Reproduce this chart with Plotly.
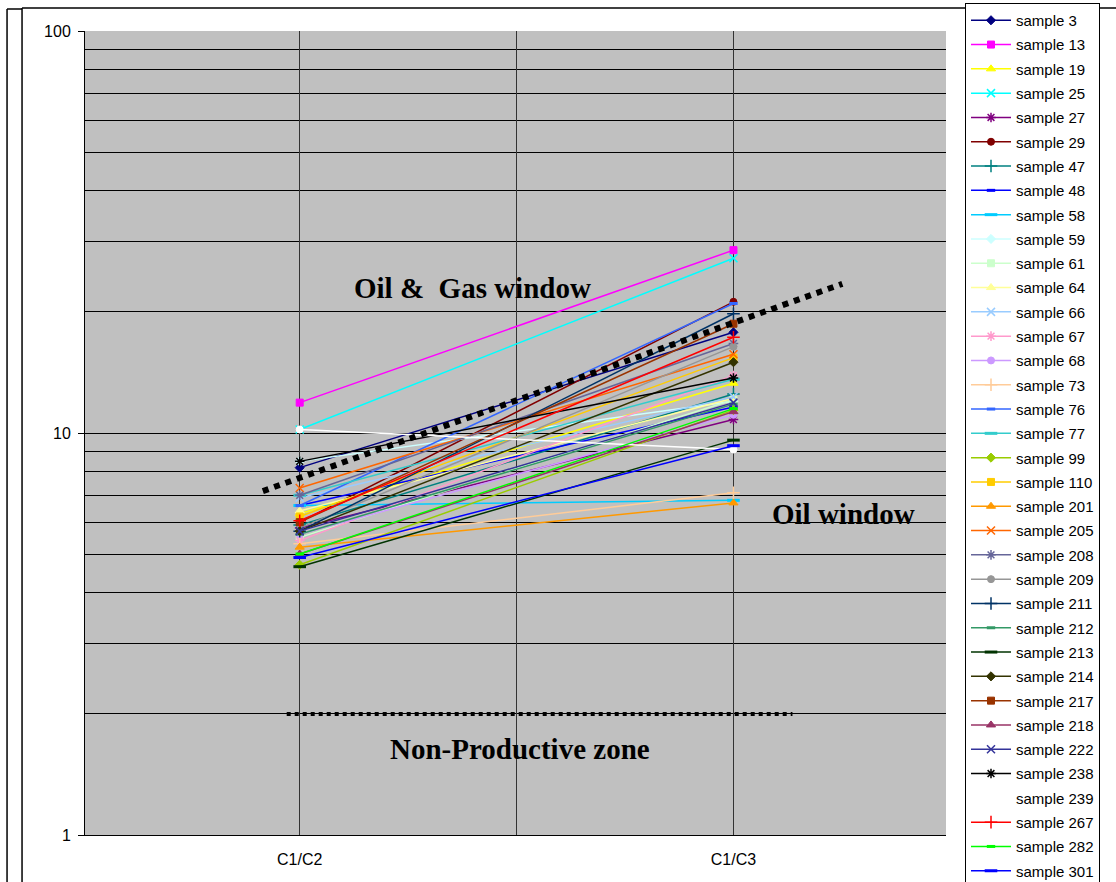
import plotly.graph_objects as go

# Gas ratio data per sample: C1/C2 and C1/C3
ratios = ["C1/C2", "C1/C3"]
samples = ["sample 3", "sample 13", "sample 19", "sample 25", "sample 27", "sample 29",
           "sample 47", "sample 48", "sample 58", "sample 59", "sample 61", "sample 64",
           "sample 66", "sample 67", "sample 68", "sample 73", "sample 76", "sample 77",
           "sample 99", "sample 110", "sample 201", "sample 205", "sample 208", "sample 209",
           "sample 211", "sample 212", "sample 213", "sample 214", "sample 217", "sample 218",
           "sample 222", "sample 238", "sample 239", "sample 267", "sample 282", "sample 301"]
c1_c2 = [8.2, 11.9, 6.3, 10.2, 5.8, 6.0,
         5.9, 6.6, 6.6, 8.5, 5.5, 6.4,
         6.9, 5.4, 5.6, 5.3, 6.6, 7.0,
         4.7, 6.2, 5.2, 7.3, 7.0, 5.8,
         5.7, 5.6, 4.65, 5.7, 6.0, 5.0,
         5.7, 8.5, 10.2, 6.05, 5.0, 4.9]
c1_c3 = [17.8, 28.5, 13.3, 27.2, 10.8, 21.2,
         12.5, 11.6, 6.8, 12.0, 12.1, 12.2,
         12.3, 13.9, 11.1, 7.1, 21.0, 13.6,
         11.4, 15.4, 6.7, 15.7, 16.7, 16.4,
         19.8, 11.8, 9.6, 15.0, 18.7, 11.3,
         11.9, 13.7, 9.1, 17.3, 11.5, 9.3]

# Zone boundaries
gas_line_x = [-0.085, 1.251]
gas_line_y = [7.17, 23.5]
np_line_x = [-0.03, 1.136]
np_line_y = [2.0, 2.0]

colors = ["#000080", "#FF00FF", "#FFFF00", "#00FFFF", "#800080", "#800000",
          "#008080", "#0000FF", "#00CCFF", "#CCFFFF", "#CCFFCC", "#FFFF99",
          "#99CCFF", "#FF99CC", "#CC99FF", "#FFCC99", "#3366FF", "#33CCCC",
          "#99CC00", "#FFCC00", "#FF9900", "#FF6600", "#666699", "#969696",
          "#003366", "#339966", "#003300", "#333300", "#993300", "#993366",
          "#333399", "#000000", "#FFFFFF", "#FF0000", "#00FF00", "#0000FF"]

# marker cycle: diamond, square, triangle, x, star, circle, plus, dash, bar
symbol_cycle = [("diamond", 7, 1), ("square", 7, 1), ("triangle-up", 8, 1),
                ("x-thin", 8, 1.5), ("asterisk", 8, 1.5), ("circle", 7, 1),
                ("cross-thin", 9, 1.5), ("line-ew", 6, 3), ("line-ew", 9, 3)]

W, H = 1116, 882
L, R, T, B = 85, 169.5, 31, 47
pw, ph = W - L - R, H - T - B


def px_x(px):
    return (px - L) / pw


def px_y(py):
    return (H - B - py) / ph


xs = list(range(len(ratios)))
fig = go.Figure()

for i, name in enumerate(samples):
    sym, size, lw = symbol_cycle[i % len(symbol_cycle)]
    fig.add_trace(go.Scatter(
        x=xs, y=[c1_c2[i], c1_c3[i]], name=name, mode="lines+markers",
        legendgroup=name,
        line=dict(color=colors[i], width=1.5),
        marker=dict(symbol=sym, size=size, color=colors[i],
                    line=dict(color=colors[i], width=lw)),
    ))

fig.add_trace(go.Scatter(x=gas_line_x, y=gas_line_y, mode="lines", showlegend=False,
                         hoverinfo="skip", line=dict(color="black", width=6, dash="dot")))
fig.add_trace(go.Scatter(x=np_line_x, y=np_line_y, mode="lines", showlegend=False,
                         hoverinfo="skip", line=dict(color="black", width=4, dash="dot")))

zone_font = dict(family="Times New Roman, Liberation Serif, serif", size=29, color="black")
annotations = [
    dict(text="<b>Oil &amp;  Gas window</b>", x=px_x(473), y=px_y(288)),
    dict(text="<b>Oil window</b>", x=px_x(844), y=px_y(514)),
    dict(text="<b>Non-Productive zone</b>", x=px_x(520), y=px_y(749)),
]
for a in annotations:
    fig.add_annotation(xref="paper", yref="paper", showarrow=False,
                       xanchor="center", yanchor="middle", font=zone_font, **a)

# outer frame lines
frame = dict(type="line", xref="paper", yref="paper", line=dict(color="black", width=1.5))
fig.add_shape(x0=px_x(22), x1=px_x(22), y0=px_y(8), y1=px_y(900), **frame)
fig.add_shape(x0=px_x(22), x1=px_x(1120), y0=px_y(8), y1=px_y(8), **frame)
fig.add_shape(x0=px_x(7), x1=px_x(7), y0=px_y(9), y1=px_y(900), **frame)
fig.add_shape(x0=px_x(7), x1=px_x(22), y0=px_y(9), y1=px_y(9), **frame)

fig.update_layout(
    width=W, height=H,
    margin=dict(l=L, r=R, t=T, b=B, autoexpand=False),
    paper_bgcolor="white", plot_bgcolor="#C0C0C0",
    font=dict(family="Arial, Liberation Sans, sans-serif", size=15, color="black"),
    legend=dict(xref="container", yref="container", x=965 / W, y=1 - 3 / H,
                xanchor="left", yanchor="top", bgcolor="white",
                bordercolor="black", borderwidth=1, tracegroupgap=1.8,
                itemwidth=40, entrywidth=108, entrywidthmode="pixels",
                maxheight=2000, font=dict(size=15)),
    showlegend=True,
)
fig.update_xaxes(range=[-0.495, 1.49], tickvals=[0, 0.5, 1],
                 ticktext=[ratios[0], "", ratios[1]], ticks="",
                 tickfont=dict(size=16), ticklabelstandoff=10,
                 showgrid=True, gridcolor="#333333", gridwidth=1,
                 showline=True, linecolor="black", linewidth=1, zeroline=False)
fig.update_yaxes(type="log", range=[0, 2], dtick=1, ticks="outside", ticklen=6,
                 tickcolor="black", tickfont=dict(size=16), ticklabelstandoff=4,
                 showgrid=True, gridcolor="black", gridwidth=1,
                 minor=dict(dtick="D1", showgrid=True, gridcolor="black", gridwidth=1, ticks=""),
                 showline=True, linecolor="black", linewidth=1)

fig.write_html("out.html")
